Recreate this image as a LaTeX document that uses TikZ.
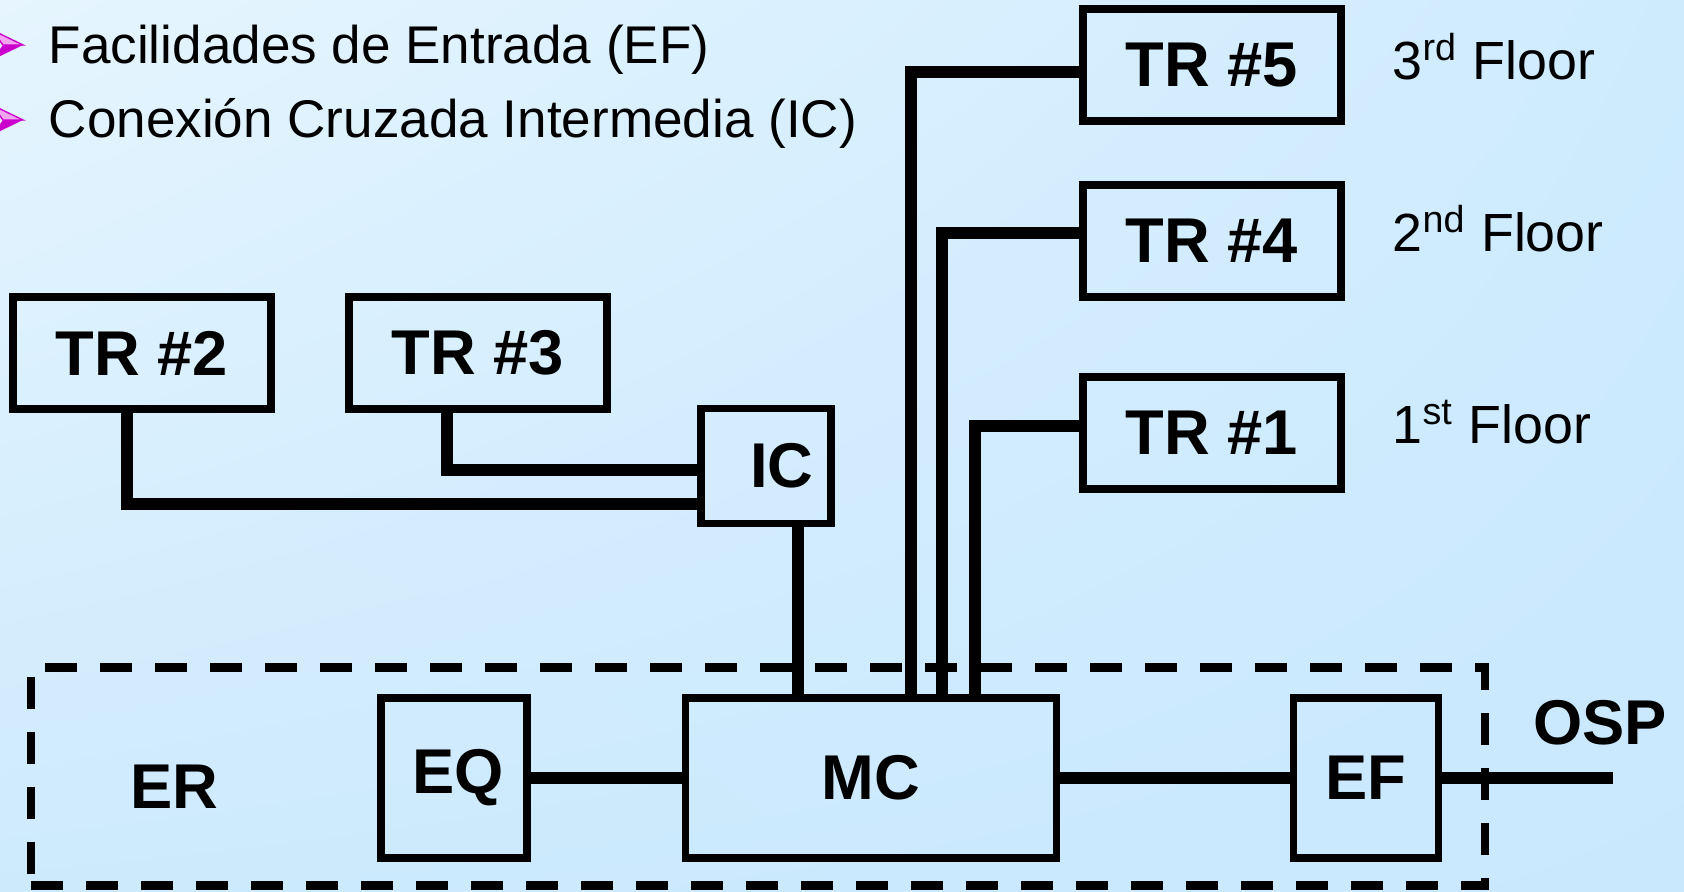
\documentclass[tikz,border=0pt]{standalone}
\usepackage{fontspec}
\setmainfont{Liberation Sans}
\usetikzlibrary{shadings}
\definecolor{bgul}{HTML}{E6F5FE}
\definecolor{bgur}{HTML}{CEEBFE}
\definecolor{bgll}{HTML}{CDEAFD}
\definecolor{bglr}{HTML}{C9E8FE}
\definecolor{bulletdark}{HTML}{CC00CC}
\definecolor{bulletlight}{HTML}{F2A6F2}

\begin{document}
\begin{tikzpicture}[x=0.1mm, y=-0.1mm,
  box/.style={draw, line width=2.1pt, inner sep=0pt, font=\fontsize{18}{20}\selectfont\bfseries},
  trbox/.style={box, minimum width=25.8mm, minimum height=11.2mm},
  erbox/.style={draw, line width=2.3pt, dash pattern=on 3.2mm off 2.3mm, inner sep=0pt},
  wire/.style={line width=3.3pt},
  floor/.style={anchor=base west, inner sep=0pt, font=\fontsize{15.3}{19}\selectfont},
  item/.style={anchor=base west, inner sep=0pt, font=\fontsize{15.1}{18}\selectfont},
  tag/.style={font=\fontsize{18}{20}\selectfont\bfseries}]
  % background
  \useasboundingbox (0,0) rectangle (1684,891);
  \shade[upper left=bgul, upper right=bgur, lower left=bgll, lower right=bglr] (0,0) rectangle (1684,891);

  % bullet list
  \foreach \y in {45,120} {
    \fill[bulletlight, draw=bulletdark, line width=0.4pt] (-8,\y-15) -- (23,\y) -- (3,\y) -- cycle;
    \fill[bulletdark] (-8,\y+15) -- (23,\y) -- (3,\y) -- cycle;
  }
  \node[item] (efitem) at (48,63) {Facilidades de Entrada (EF)};
  \node[item] (icitem) at (48,137) {Conexión Cruzada Intermedia (IC)};

  % telecom rooms
  \node[trbox] (tr5) at (1212,65) {TR \#5};
  \node[trbox] (tr4) at (1212,241) {TR \#4};
  \node[trbox] (tr1) at (1212,433) {TR \#1};
  \node[trbox] (tr2) at (142,353) {TR \#2};
  \node[trbox] (tr3) at (478,353) {TR \#3};
  \node[box, minimum width=13mm, minimum height=11.5mm] (ic) at (766,466) {\hspace*{3.2mm}IC};

  \node[floor] (fl3) at (1392,79) {3\textsuperscript{rd} Floor};
  \node[floor] (fl2) at (1392,251) {2\textsuperscript{nd} Floor};
  \node[floor] (fl1) at (1392,443) {1\textsuperscript{st} Floor};

  % equipment room
  \node[erbox, minimum width=145.4mm, minimum height=21.8mm] (er) at (758,776.5) {};
  \node[tag] (erlabel) at (174,787) {ER};
  \node[box, minimum width=14.6mm, minimum height=16mm] (eq) at (454,778) {\hspace*{0.8mm}EQ};
  \node[box, minimum width=37.1mm, minimum height=16mm] (mc) at (871,778) {MC};
  \node[box, minimum width=14.5mm, minimum height=16mm] (ef) at (1366,778) {EF};
  \node[tag] (osp) at (1600,723) {OSP};
  \coordinate (ospend) at (1613,778);

  % cabling
  \draw[wire] ([yshift=-0.7mm]tr5.west) -| ([xshift=4mm]mc.north);
  \draw[wire] ([yshift=0.8mm]tr4.west) -| ([xshift=7.1mm]mc.north);
  \draw[wire] ([yshift=0.7mm]tr1.west) -| ([xshift=10.4mm]mc.north);
  \draw[wire] ([xshift=3.2mm]ic.south) -- ([xshift=-7.3mm]mc.north);
  \draw[wire] ([xshift=-3.1mm]tr3.south) |- ([yshift=-0.4mm]ic.west);
  \draw[wire] ([xshift=-1.5mm]tr2.south) |- ([yshift=-3.8mm]ic.west);
  \draw[wire] (eq) -- (mc);
  \draw[wire] (mc) -- (ef);
  \draw[wire] (ef.east) -- (ospend);
\end{tikzpicture}
\end{document}
